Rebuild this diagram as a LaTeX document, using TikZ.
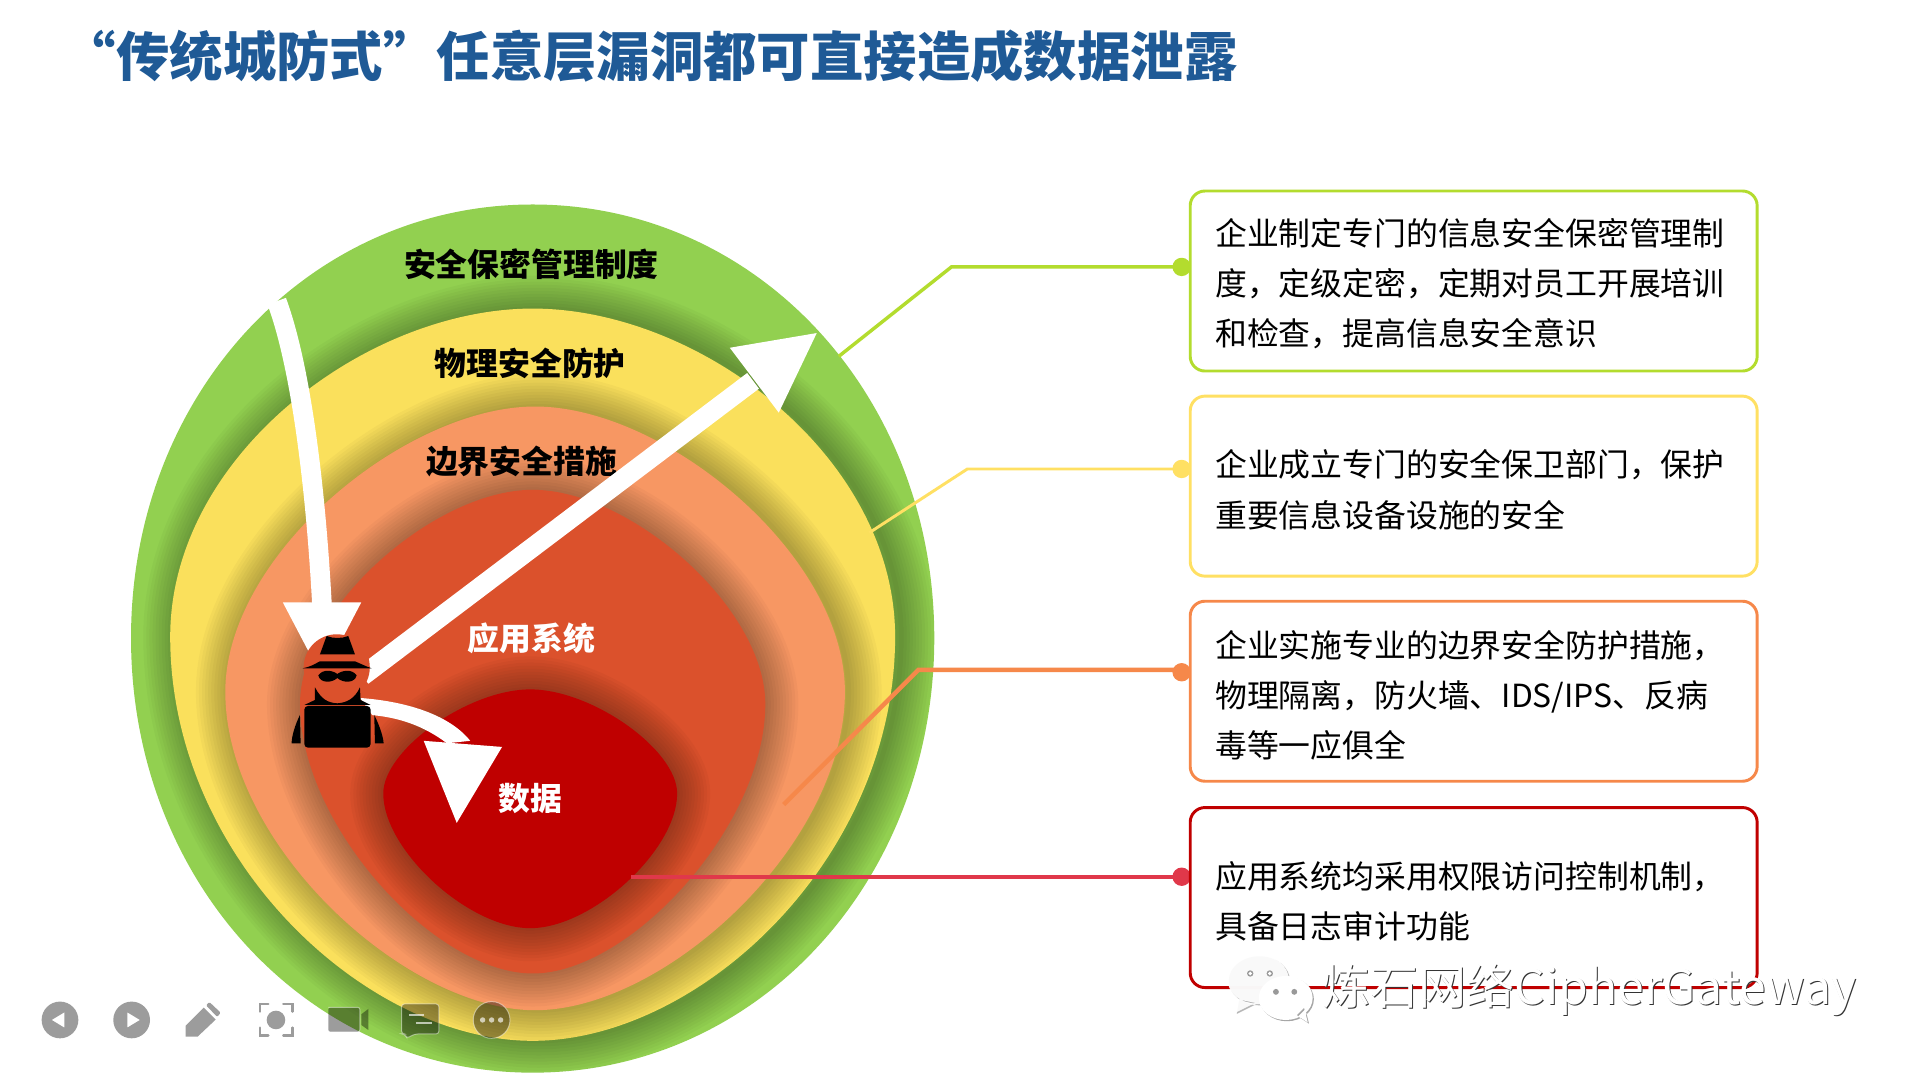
\documentclass[tikz,border=0pt]{standalone}
\usepackage{fontspec}
\newfontfamily\cjk{Noto Sans CJK SC}
\definecolor{cGreen}{HTML}{92D050}
\definecolor{cYellow}{HTML}{FAE05C}
\definecolor{cOrange}{HTML}{F79763}
\definecolor{cApp}{HTML}{DB512C}
\definecolor{cData}{HTML}{BF0000}
\definecolor{lnGreen}{HTML}{B3DC2E}
\definecolor{lnYellow}{HTML}{FFE063}
\definecolor{lnOrange}{HTML}{F6884A}
\definecolor{lnRed}{HTML}{C00000}
\definecolor{lnRose}{HTML}{E0384A}
\definecolor{cTitle}{HTML}{1F5A96}
% cx top bottom halfwidth ymid a b
\newcommand\blobpath[7]{({#1},{#2}) .. controls ({#1+#4*#6},{#2}) and ({#1+#4},{#5-#7*(#5-#2)}) .. ({#1+#4},{#5})
 .. controls ({#1+#4},{#5+#7*(#3-#5)}) and ({#1+#4*#6},{#3}) .. ({#1},{#3})
 .. controls ({#1-#4*#6},{#3}) and ({#1-#4},{#5+#7*(#3-#5)}) .. ({#1-#4},{#5})
 .. controls ({#1-#4},{#5-#7*(#5-#2)}) and ({#1-#4*#6},{#2}) .. ({#1},{#2}) -- cycle}
\newcommand\blobshadow[8]{% parent drawn already; #8 = x shift
 \foreach \w in {4,9,...,54}{\draw[black,opacity=.027,line width=\w*.5pt,xshift=#8*.5pt] \blobpath{#1}{#2}{#3}{#4}{#5}{#6}{#7};}}
\tikzset{
 infobox/.style={draw=#1,fill=white,line width=1.2pt,rounded corners=6pt,outer sep=0pt,minimum width=231.5pt,minimum height=73.5pt,inner sep=0pt,anchor=north west},
 infotext/.style={anchor=west,inner sep=0pt,align=left,font=\cjk\fontsize{13}{20.5}\selectfont},
 linkdot/.style={circle,fill=#1,inner sep=0pt,minimum size=7.5pt},
 layerlabel/.style={font=\cjk\bfseries\fontsize{13}{15}\selectfont,inner sep=0pt},
 iconfill/.style={fill=black,opacity=.39},
 iconstroke/.style={draw=black,opacity=.39,line width=1pt,line cap=round},
 iconedge/.style={draw=white,opacity=.45,line width=.4pt},
 wm/.style={font=\cjk\fontsize{19.6}{22}\selectfont,inner sep=0pt,anchor=west},
}
\begin{document}
\begin{tikzpicture}[x=.5pt,y=-.5pt]
\useasboundingbox (0,0) rectangle (1568,882);
\fill[white] (0,0) rectangle (1568,882);
% title
\node[anchor=west,inner sep=0pt,text=cTitle,font=\cjk\bfseries\fontsize{21.8}{24}\selectfont] (title) at (51,46) {“传统城防式”任意层漏洞都可直接造成数据泄露};
% layers
\fill[cGreen] \blobpath{435}{167}{876}{328}{521}{.56}{.56};
\begin{scope}\clip \blobpath{435}{167}{876}{328}{521}{.56}{.56};
 \blobshadow{435}{252}{850}{296}{520}{.46}{.55}{5}
\end{scope}
\fill[cYellow] \blobpath{435}{252}{850}{296}{520}{.46}{.55};
\begin{scope}\clip \blobpath{435}{252}{850}{296}{520}{.46}{.55};
 \blobshadow{437}{332}{825}{253}{565}{.42}{.48}{3}
\end{scope}
\fill[cOrange] \blobpath{437}{332}{825}{253}{565}{.42}{.48};
\begin{scope}\clip \blobpath{437}{332}{825}{253}{565}{.42}{.48};
 \blobshadow{435}{400}{795}{190}{575}{.42}{.45}{0}
\end{scope}
\fill[cApp] \blobpath{435}{400}{795}{190}{575}{.42}{.45};
\begin{scope}\clip \blobpath{435}{400}{795}{190}{575}{.42}{.45};
 \blobshadow{433}{563}{758}{120}{648}{.42}{.42}{0}
\end{scope}
\fill[cData] \blobpath{433}{563}{758}{120}{648}{.42}{.42};
% connectors
\node[linkdot=lnGreen] (d1) at (965,218) {};
\node[linkdot=lnYellow] (d2) at (965,383) {};
\node[linkdot=lnOrange] (d3) at (965,549) {};
\node[linkdot=lnRose] (d4) at (965,716) {};
\coordinate (k1) at (777,218); \coordinate (e1) at (685,291);
\coordinate (k2) at (790,383); \coordinate (e2) at (710,435);
\coordinate (k3) at (750,547); \coordinate (e3) at (640,657);
\coordinate (e4) at (515,716);
\draw[lnGreen,line width=1.4pt] (d1.center) -- (k1) -- (e1);
\draw[lnYellow,line width=1.2pt] (d2.center) -- (k2) -- (e2);
\draw[lnOrange,line width=1.8pt] (d3.center) |- (k3) -- (e3);
\draw[lnRose,line width=1.8pt] (d4.center) -- (e4);
% labels in layers
\node[layerlabel] (l1) at (434,216) {安全保密管理制度};
\node[layerlabel] (l2) at (433,297) {物理安全防护};
\node[layerlabel] (l3) at (426,377) {边界安全措施};
\node[layerlabel,white] (l4) at (434,521) {应用系统};
\node[layerlabel,white] (l5) at (433,652) {数据};
% white arrows
\draw[white,line width=8pt] (226,246) .. controls (246,300) and (258,400) .. (263,495);
\fill[white] (231,492) -- (295,492) -- (263,553) -- cycle;
\draw[white,line width=8pt] (296,552) -- (615,311);
\fill[white] (667,272) -- (596,284) -- (636,337) -- cycle;
\fill[white] (294,570) .. controls (335,573) and (368,585) .. (384,605) -- (365,607) .. controls (345,592) and (325,586) .. (304,584) -- cycle;
\fill[white] (346,605) -- (410,610) -- (373,672) -- cycle;
% hacker
\fill[cApp] (275,545) circle (27);
\begin{scope}[shift={(212.3,490)},x=.1361pt,y=-.1361pt]
 \fill (180,163) -- (200,108) .. controls (220,116) and (245,116) .. (265,108) -- (285,163) -- cycle;
 \fill (128,205) .. controls (160,198) and (170,188) .. (180,184) -- (285,184) .. controls (300,190) and (315,198) .. (335,205) -- cycle;
 \fill (175,226) .. controls (190,205) and (220,212) .. (232,222) .. controls (245,212) and (275,205) .. (290,226) .. controls (285,250) and (250,250) .. (232,234) .. controls (215,250) and (180,250) .. (175,226) -- cycle;
 \fill (165,262) .. controls (185,300) and (205,308) .. (232,310) .. controls (262,308) and (285,295) .. (300,262) -- (302,300) -- (332,315) -- (133,315) -- (165,300) -- cycle;
 \fill[rounded corners=1.5pt] (133,318) rectangle (332,443);
 \fill (120,345) .. controls (105,375) and (95,410) .. (95,430) -- (122,430) -- cycle;
 \fill (343,345) .. controls (358,375) and (370,410) .. (371,430) -- (345,430) -- cycle;
\end{scope}
% boxes
\node[infobox=lnGreen] (b1) at (972,156) {};
\node[infobox=lnYellow] (b2) at (972,323.5) {};
\node[infobox=lnOrange] (b3) at (972,491) {};
\node[infobox=lnRed] (b4) at (972,659.5) {};
\node[infotext] (t1) at (992,231.5) {企业制定专门的信息安全保密管理制\\度，定级定密，定期对员工开展培训\\和检查，提高信息安全意识};
\node[infotext] (t2) at (992,400) {企业成立专门的安全保卫部门，保护\\重要信息设备设施的安全};
\node[infotext] (t3) at (992,568) {企业实施专业的边界安全防护措施，\\物理隔离，防火墙、IDS/IPS、反病\\毒等一应俱全};
\node[infotext] (t4) at (992,736) {应用系统均采用权限访问控制机制，\\具备日志审计功能};
% toolbar
\begin{scope}[shift={(16.33,800.3)},x=.1361pt,y=-.1361pt]
 \path[iconfill,even odd rule] (120,120) circle [radius=15*.5pt] (95,120) -- (133,97) -- (133,143) -- cycle;
 \path[iconfill,even odd rule] (335,120) circle [radius=15*.5pt] (360,120) -- (322,97) -- (322,143) -- cycle;
 \path[iconfill] (497,170) -- (497,137) -- (551,83) -- (587,119) -- (533,170) -- cycle;
 \path[iconfill,rounded corners=.5pt] (558,76) -- (568,66) -- (602,98) -- (592,111) -- cycle;
 \draw[iconstroke] (720,95) -- (720,72) -- (745,72);
 \draw[iconstroke] (790,72) -- (817,72) -- (817,95);
 \draw[iconstroke] (720,143) -- (720,167) -- (745,167);
 \draw[iconstroke] (790,167) -- (817,167) -- (817,143);
 \path[iconfill] (768,120) circle [radius=3.8pt];
 \path[iconfill,rounded corners=1pt] (925,82) rectangle (1020,156);
 \path[iconfill] (1024,103) -- (1045,87) -- (1045,150) -- (1024,135) -- cycle;
 \draw[iconedge,rounded corners=1pt] (925,82) -- (1020,82) -- (1020,156) -- (925,156);
 \path[iconfill,rounded corners=1.2pt] (1145,72) -- (1257,72) -- (1257,162) -- (1185,162) -- (1160,175) -- (1155,162) -- (1145,162) -- cycle;
 \draw[iconedge,rounded corners=1.2pt] (1145,72) -- (1257,72) -- (1257,162) -- (1185,162) -- (1160,175) -- (1155,162) -- (1145,162) -- cycle;
 \draw[white,opacity=.65,line width=.9pt] (1167,105) -- (1212,105) (1187,128) -- (1235,128);
 \path[iconfill] (1415,120) circle [radius=7.5pt];
 \draw[iconedge] (1415,120) circle [radius=7.5pt];
 \fill[white,opacity=.65] (1388,120) circle [radius=1.1pt] (1415,120) circle [radius=1.1pt] (1442,120) circle [radius=1.1pt];
\end{scope}
% watermark
\begin{scope}
 \fill[gray!70,opacity=.8] (1028.5,801) ellipse (25 and 20) (1012,817) -- (1010,828) -- (1026,820) -- cycle;
 \fill[white,opacity=.92] (1027.5,800) ellipse (25 and 20) (1011,816) -- (1009,827) -- (1025,819) -- cycle;
 \fill[gray!80] (1021,795) circle (2.6) (1037,795) circle (2.6);
 \fill[white] (1021,795) circle (1.5) (1037,795) circle (1.5);
 \fill[gray!70] (1051,816) ellipse (22 and 18) (1060,830) -- (1069,836) -- (1066,824) -- cycle;
 \fill[white] (1050,815) ellipse (22 and 18) (1059,829) -- (1068,835) -- (1065,823) -- cycle;
 \fill[gray!80] (1042,810) circle (2.4) (1057,810) circle (2.4);
\end{scope}
\node[wm,text=black!80] (wmb) at (1080.8,808.8) {炼石网络CipherGateway};
\node[wm,text=white] (wmf) at (1080,808) {炼石网络CipherGateway};
\end{tikzpicture}
\end{document}
